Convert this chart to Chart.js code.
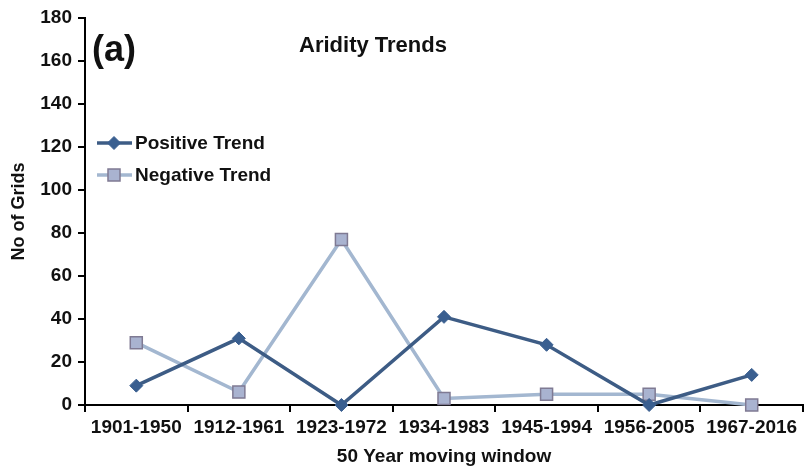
<!DOCTYPE html>
<html>
<head>
<meta charset="utf-8">
<script src="https://cdn.jsdelivr.net/npm/chart.js@4"></script>
<style>
    body { margin: 0; background: #fff; }
    #wrap { width: 804px; height: 472px; position: relative; }
</style>
</head>
<body>
<div id="wrap"><canvas id="chart"></canvas></div>
<script>
// נתונים
const windows = ['1901-1950', '1912-1961', '1923-1972', '1934-1983', '1945-1994', '1956-2005', '1967-2016'];
const positiveTrend = [9, 31, 0, 41, 28, 0, 14];
const negativeTrend = [29, 6, 77, 3, 5, 5, 0];
const yTicks = [0, 20, 40, 60, 80, 100, 120, 140, 160, 180];

const FONT = '"Liberation Sans", Arial, sans-serif';
const darkBlue = '#3d5c85';
const lightBlue = '#a3b7d0';

// כותרת, (a) ומקרא בתוך אזור הגרף
const overlay = {
    id: 'overlay',
    afterDraw(chart) {
        const ctx = chart.ctx;
        ctx.save();
        ctx.fillStyle = '#111';
        ctx.textBaseline = 'middle';
        ctx.font = 'bold 36px ' + FONT;
        ctx.textAlign = 'left';
        ctx.fillText('(a)', 92, 51);
        ctx.font = 'bold 22px ' + FONT;
        ctx.textAlign = 'center';
        ctx.fillText('Aridity Trends', 373, 46);

        ctx.font = 'bold 19px ' + FONT;
        ctx.textAlign = 'left';
        chart.data.datasets.forEach((ds, i) => {
            const y = 143 + i * 32;
            ctx.strokeStyle = ds.borderColor;
            ctx.lineWidth = 3.5;
            ctx.beginPath();
            ctx.moveTo(97, y);
            ctx.lineTo(132, y);
            ctx.stroke();
            ctx.fillStyle = ds.pointBackgroundColor;
            ctx.strokeStyle = ds.pointBorderColor;
            ctx.lineWidth = ds.pointBorderWidth;
            Chart.helpers.drawPoint(ctx, {
                pointStyle: ds.pointStyle,
                radius: ds.pointRadius,
                borderWidth: ds.pointBorderWidth
            }, 114, y);
            ctx.fillStyle = '#111';
            ctx.fillText(ds.label, 135, y + 1);
        });
        ctx.restore();
    }
};

new Chart(document.getElementById('chart'), {
    type: 'line',
    data: {
        labels: windows,
        datasets: [
            {
                label: 'Positive Trend',
                data: positiveTrend,
                borderColor: darkBlue,
                backgroundColor: darkBlue,
                borderWidth: 3.5,
                pointStyle: 'rectRot',
                pointRadius: 6.5,
                pointBorderWidth: 1,
                pointBackgroundColor: '#3a5f90',
                pointBorderColor: '#3a5f90',
                tension: 0,
                clip: false
            },
            {
                label: 'Negative Trend',
                data: negativeTrend,
                borderColor: lightBlue,
                backgroundColor: lightBlue,
                borderWidth: 3.5,
                pointStyle: 'rect',
                pointRadius: 8.5,
                pointBorderWidth: 1.5,
                pointBackgroundColor: '#a9b3d0',
                pointBorderColor: '#7f7a93',
                tension: 0,
                clip: false
            }
        ]
    },
    options: {
        responsive: true,
        maintainAspectRatio: false,
        animation: false,
        layout: { autoPadding: false, padding: { top: 18, right: 1, left: 4, bottom: 0 } },
        plugins: {
            legend: { display: false },
            title: { display: false },
            tooltip: { enabled: false }
        },
        scales: {
            x: {
                offset: true,
                grid: {
                    offset: true,
                    drawOnChartArea: false,
                    tickLength: 7,
                    color: '#000',
                    lineWidth: 2
                },
                border: { color: '#000', width: 2 },
                ticks: {
                    color: '#111',
                    font: { family: FONT, size: 19, weight: 'bold' },
                    maxRotation: 0,
                    autoSkip: false,
                    padding: 4
                },
                title: {
                    display: true,
                    text: '50 Year moving window',
                    color: '#111',
                    font: { family: FONT, size: 19, weight: 'bold' },
                    padding: { top: 0 }
                },
                afterFit(scale) { scale.height = 67; }
            },
            y: {
                min: 0,
                max: 180,
                afterBuildTicks(scale) {
                    scale.ticks = yTicks.map(v => ({ value: v }));
                },
                grid: {
                    drawOnChartArea: false,
                    tickLength: 7,
                    color: '#000',
                    lineWidth: 2
                },
                border: { color: '#000', width: 2 },
                ticks: {
                    color: '#111',
                    font: { family: FONT, size: 19, weight: 'bold' },
                    padding: 6
                },
                title: {
                    display: true,
                    text: 'No of Grids',
                    color: '#111',
                    font: { family: FONT, size: 18, weight: 'bold' },
                    padding: { bottom: 0 }
                },
                afterFit(scale) { scale.width = 81; }
            }
        }
    },
    plugins: [overlay]
});
</script>
</body>
</html>
